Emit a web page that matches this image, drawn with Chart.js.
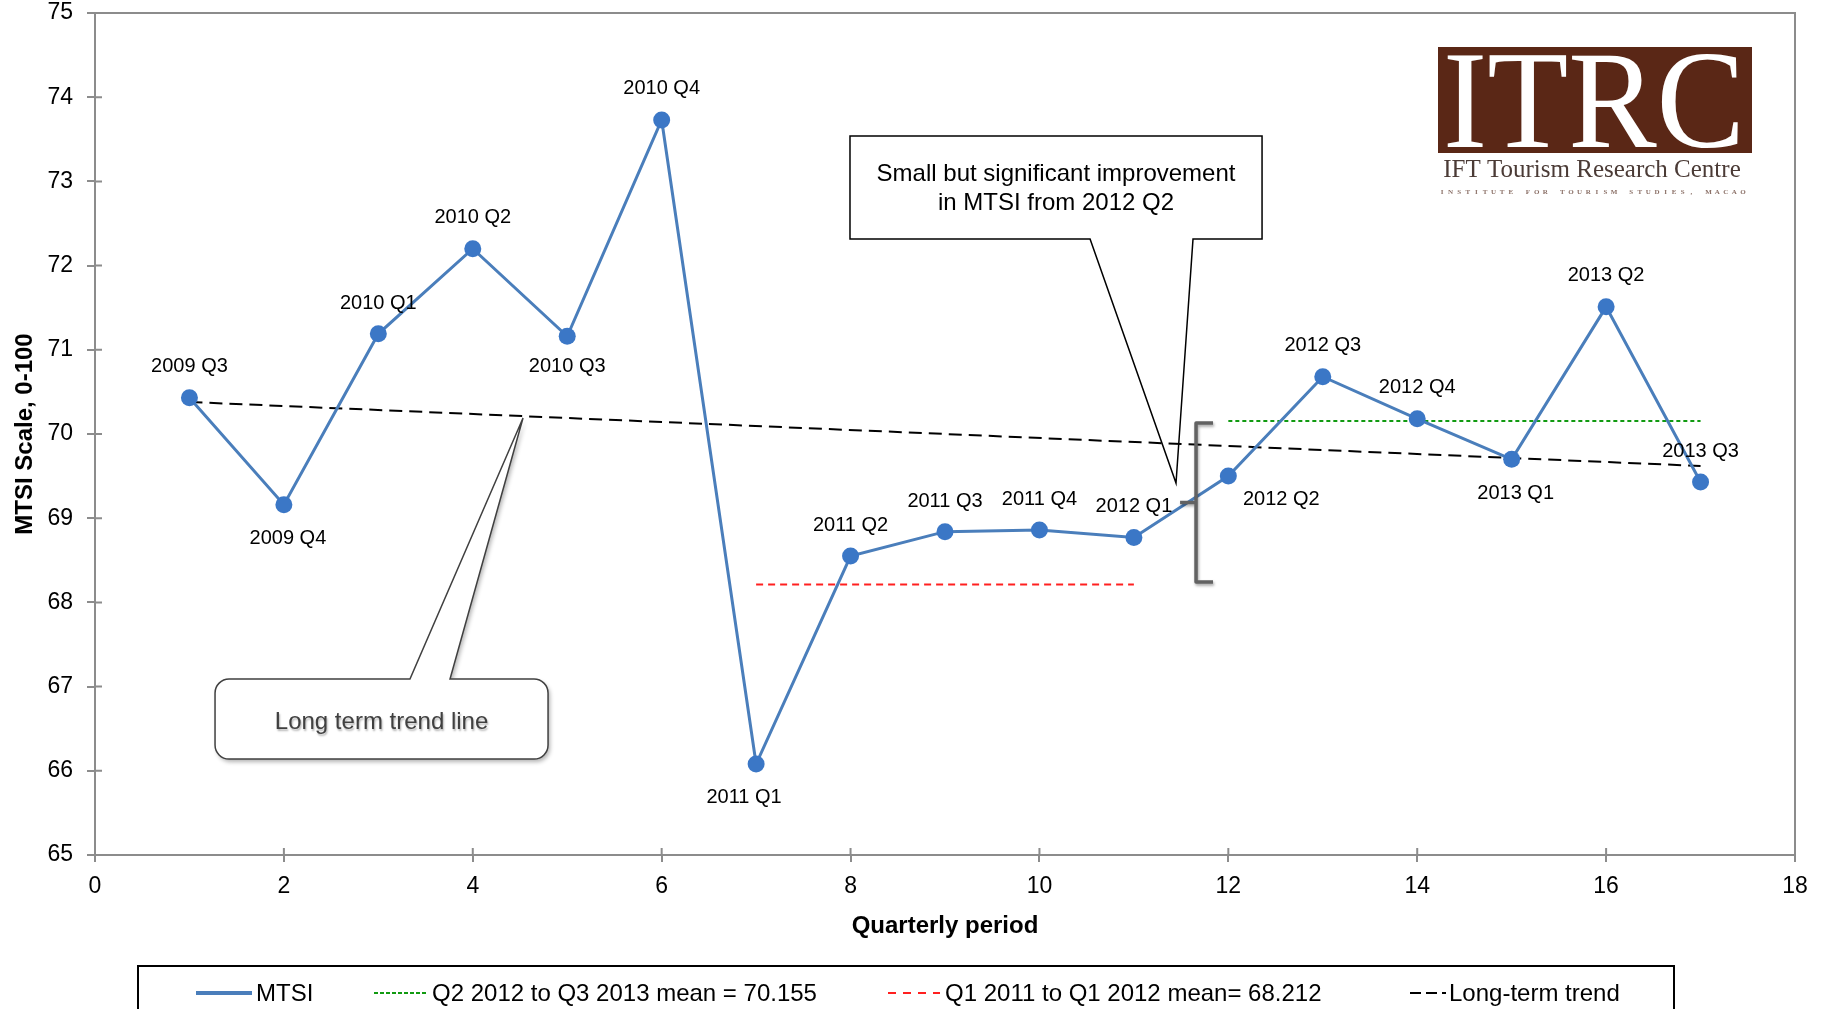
<!DOCTYPE html>
<html><head><meta charset="utf-8">
<script src="https://cdn.jsdelivr.net/npm/chart.js@4.4.0/dist/chart.umd.min.js"></script>
<style>html,body{margin:0;padding:0;background:#fff;overflow:hidden}#wrap{width:1822px;height:1009px}</style>
</head><body><div id="wrap"><canvas id="c" width="1822" height="1009"></canvas></div>
<script>
// ---- data ----
const periods = [1, 2, 3, 4, 5, 6, 7, 8, 9, 10, 11, 12, 13, 14, 15, 16, 17];
const quarterLabels = ['2009 Q3','2009 Q4','2010 Q1','2010 Q2','2010 Q3','2010 Q4','2011 Q1','2011 Q2','2011 Q3','2011 Q4','2012 Q1','2012 Q2','2012 Q3','2012 Q4','2013 Q1','2013 Q2','2013 Q3'];
const mtsi = [70.43, 69.16, 71.19, 72.20, 71.16, 73.73, 66.08, 68.55, 68.84, 68.86, 68.77, 69.50, 70.68, 70.18, 69.70, 71.51, 69.43];
const recentMeanPeriods = [12, 17];
const recentMean = 70.155;
const earlierMeanPeriods = [7, 11];
const earlierMean = 68.212;
const trendPeriods = [1, 17];
const trendValues = [70.38, 69.62];
const yTickValues = [65, 66, 67, 68, 69, 70, 71, 72, 73, 74, 75];
const xTickValues = [0, 2, 4, 6, 8, 10, 12, 14, 16, 18];

// label placement (offsets in px from point)
const labelOffsets = [[0,-31],[4,34],[0,-30],[0,-31],[0,30],[0,-31],[-12,33],[0,-31],[0,-30],[0,-31],[0,-31],[53,23],[0,-31],[0,-31],[4,34],[0,-31],[0,-31]];

const FONT = '"Liberation Sans", Arial, sans-serif';
const SERIF = '"Liberation Serif", "Times New Roman", serif';
const AXIS_GRAY = '#8c8c8c';

const mtsiPoints = periods.map((p, i) => ({x: p, y: mtsi[i]}));
const recentPoints = recentMeanPeriods.map(p => ({x: p, y: recentMean}));
const earlierPoints = earlierMeanPeriods.map(p => ({x: p, y: earlierMean}));
const trendPoints = trendPeriods.map((p, i) => ({x: p, y: trendValues[i]}));

const overlay = {
  id: 'overlay',
  beforeDatasetsDraw(chart) {
    const {ctx, chartArea: a, scales: {x, y}} = chart;
    ctx.save();
    ctx.strokeStyle = AXIS_GRAY;
    ctx.lineWidth = 2;
    ctx.beginPath();
    ctx.moveTo(a.left, a.top); ctx.lineTo(a.right, a.top); ctx.lineTo(a.right, a.bottom);
    ctx.stroke();
    ctx.beginPath();
    yTickValues.forEach(v => { const py = y.getPixelForValue(v); ctx.moveTo(a.left, py); ctx.lineTo(a.left + 7, py); });
    xTickValues.forEach(v => { const px = x.getPixelForValue(v); ctx.moveTo(px, a.bottom); ctx.lineTo(px, a.bottom - 7); });
    ctx.stroke();
    ctx.restore();
  },
  afterDatasetsDraw(chart) {
    const {ctx, scales: {x, y}} = chart;
    const X = v => x.getPixelForValue(v), Y = v => y.getPixelForValue(v);
    ctx.save();
    const meta = chart.getDatasetMeta(0);
    ctx.font = '20px ' + FONT;
    ctx.fillStyle = '#000';
    ctx.textAlign = 'center';
    ctx.textBaseline = 'middle';
    meta.data.forEach((pt, i) => {
      const [dx, dy] = labelOffsets[i];
      ctx.fillText(quarterLabels[i], pt.x + dx, pt.y + dy);
    });

    // bracket
    ctx.save();
    ctx.shadowColor = 'rgba(0,0,0,0.35)'; ctx.shadowBlur = 3; ctx.shadowOffsetX = 1; ctx.shadowOffsetY = 2;
    ctx.strokeStyle = '#626262'; ctx.lineWidth = 3.5; ctx.lineJoin = 'round';
    ctx.beginPath();
    ctx.moveTo(X(11.838), Y(70.13)); ctx.lineTo(X(11.658), Y(70.13)); ctx.lineTo(X(11.658), Y(68.242)); ctx.lineTo(X(11.838), Y(68.242));
    ctx.moveTo(X(11.658), Y(69.186)); ctx.lineTo(X(11.489), Y(69.186));
    ctx.stroke();
    ctx.restore();

    // callout 1 (rectangular)
    {
      const l = X(7.994), r = X(12.357), t = Y(73.54), b = Y(72.316);
      const b1 = X(10.536), b2 = X(11.626), tx = X(11.446), ty = Y(69.418);
      ctx.fillStyle = '#fff';
      ctx.fillRect(l, t, r - l, b - t);
      ctx.strokeStyle = '#000'; ctx.lineWidth = 1.5;
      ctx.beginPath();
      ctx.moveTo(l, t); ctx.lineTo(r, t); ctx.lineTo(r, b); ctx.lineTo(b2, b); ctx.lineTo(tx, ty); ctx.lineTo(b1, b); ctx.lineTo(l, b); ctx.closePath();
      ctx.stroke();
      ctx.fillStyle = '#000';
      ctx.font = '24px ' + FONT;
      ctx.textAlign = 'center'; ctx.textBaseline = 'middle';
      const cx = (l + r) / 2, cy = (t + b) / 2;
      ctx.fillText('Small but significant improvement', cx, cy - 13);
      ctx.fillText('in MTSI from 2012 Q2', cx, cy + 16);
    }
    // callout 2 (rounded)
    {
      const l = X(1.271), r = X(4.797), t = Y(67.09), b = Y(66.14);
      const b1 = X(3.335), b2 = X(3.759), tx = X(4.532), ty = Y(70.19);
      const rad = 14;
      ctx.save();
      ctx.beginPath();
      ctx.moveTo(l + rad, t);
      ctx.lineTo(b1, t); ctx.lineTo(tx, ty); ctx.lineTo(b2, t);
      ctx.lineTo(r - rad, t); ctx.arcTo(r, t, r, t + rad, rad);
      ctx.lineTo(r, b - rad); ctx.arcTo(r, b, r - rad, b, rad);
      ctx.lineTo(l + rad, b); ctx.arcTo(l, b, l, b - rad, rad);
      ctx.lineTo(l, t + rad); ctx.arcTo(l, t, l + rad, t, rad);
      ctx.closePath();
      ctx.shadowColor = 'rgba(0,0,0,0.3)'; ctx.shadowBlur = 4; ctx.shadowOffsetX = 2; ctx.shadowOffsetY = 3;
      ctx.fillStyle = '#fff'; ctx.fill();
      ctx.shadowColor = 'transparent';
      ctx.strokeStyle = '#404040'; ctx.lineWidth = 1.5; ctx.stroke();
      ctx.shadowColor = 'rgba(0,0,0,0.3)'; ctx.shadowBlur = 2; ctx.shadowOffsetX = 1; ctx.shadowOffsetY = 2;
      ctx.fillStyle = '#404040';
      ctx.font = '24px ' + FONT;
      ctx.textAlign = 'center'; ctx.textBaseline = 'middle';
      ctx.fillText('Long term trend line', (l + r) / 2, (t + b) / 2 + 3);
      ctx.restore();
    }
    ctx.restore();
  },
  afterDraw(chart) {
    const {ctx} = chart;
    ctx.save();
    // logo
    ctx.fillStyle = '#5a2716';
    ctx.fillRect(1438, 47, 314, 106);
    ctx.fillStyle = '#ffffff';
    ctx.font = '139px ' + SERIF;
    ctx.textAlign = 'center'; ctx.textBaseline = 'alphabetic';
    ctx.fillText('ITRC', 1594, 147, 302);
    ctx.fillStyle = '#4b3b36';
    ctx.font = '25px ' + SERIF;
    ctx.fillText('IFT Tourism Research Centre', 1592, 177, 301);
    ctx.fillStyle = '#8b7067';
    ctx.font = 'bold 7px ' + SERIF;
    const small = 'INSTITUTE FOR TOURISM STUDIES, MACAO';
    const step = (1743 - 1442) / (small.length - 1);
    for (let i = 0; i < small.length; i++) ctx.fillText(small[i], 1442 + i * step, 194);

    // legend
    ctx.strokeStyle = '#000'; ctx.lineWidth = 2;
    ctx.strokeRect(138, 966, 1536, 80);
    const lineX = [[196, 252], [374, 427], [888, 940], [1410, 1446]];
    const textX = [256, 432, 945, 1449];
    const ly = 993;
    chart.data.datasets.forEach((ds, i) => {
      ctx.save();
      ctx.strokeStyle = ds.borderColor;
      ctx.lineWidth = i === 0 ? 4 : 2;
      ctx.setLineDash(ds.legendDash || []);
      ctx.beginPath(); ctx.moveTo(lineX[i][0], ly); ctx.lineTo(lineX[i][1], ly); ctx.stroke();
      ctx.restore();
      ctx.fillStyle = '#000';
      ctx.font = '24px ' + FONT;
      ctx.textAlign = 'left'; ctx.textBaseline = 'middle';
      ctx.fillText(ds.label, textX[i], ly + 1);
    });
    ctx.restore();
  }
};

new Chart(document.getElementById('c'), {
  type: 'line',
  data: {
    datasets: [
      { label: 'MTSI', data: mtsiPoints, borderColor: '#4a7ebb', backgroundColor: '#3b77c6', borderWidth: 3,
        pointRadius: 8.5, pointBackgroundColor: '#3b77c6', pointBorderWidth: 0, tension: 0 },
      { label: 'Q2 2012 to Q3 2013 mean = ' + recentMean, data: recentPoints, borderColor: '#119a11', borderWidth: 2,
        borderDash: [4, 3], legendDash: [4, 2], pointRadius: 0 },
      { label: 'Q1 2011 to Q1 2012 mean= ' + earlierMean, data: earlierPoints, borderColor: '#ff2020', borderWidth: 2,
        borderDash: [7, 5], legendDash: [8, 7], pointRadius: 0 },
      { label: 'Long-term trend', data: trendPoints, borderColor: '#000', borderWidth: 2,
        borderDash: [13, 7], legendDash: [11, 5], pointRadius: 0 }
    ]
  },
  options: {
    responsive: false,
    animation: false,
    devicePixelRatio: 1,
    layout: { padding: { top: 13, right: 27, bottom: 54, left: 0 } },
    plugins: { legend: { display: false }, tooltip: { enabled: false } },
    scales: {
      x: {
        type: 'linear', min: 0, max: 18,
        afterBuildTicks: s => { s.ticks = xTickValues.map(v => ({value: v})); },
        afterFit: s => { s.height = 100; s.paddingLeft = 0; s.paddingRight = 0; },
        ticks: { color: '#000', font: { family: FONT, size: 23 }, padding: 11, maxRotation: 0 },
        grid: { drawOnChartArea: false, color: AXIS_GRAY, lineWidth: 2, tickLength: 7 },
        border: { color: AXIS_GRAY, width: 2 },
        title: { display: true, text: 'Quarterly period', color: '#000', font: { family: FONT, size: 24, weight: 'bold' }, padding: { bottom: 14, top: 0 } }
      },
      y: {
        type: 'linear', min: 65, max: 75,
        afterBuildTicks: s => { s.ticks = yTickValues.map(v => ({value: v})); },
        afterFit: s => { s.width = 95; s.paddingTop = 0; s.paddingBottom = 0; },
        ticks: { color: '#000', font: { family: FONT, size: 23 }, padding: 14 },
        grid: { drawOnChartArea: false, color: AXIS_GRAY, lineWidth: 2, tickLength: 8 },
        border: { color: AXIS_GRAY, width: 2 },
        title: { display: true, text: 'MTSI Scale, 0-100', color: '#000', font: { family: FONT, size: 24, weight: 'bold' }, padding: { top: 11, bottom: 0 } }
      }
    }
  },
  plugins: [overlay]
});
</script>
</body></html>
